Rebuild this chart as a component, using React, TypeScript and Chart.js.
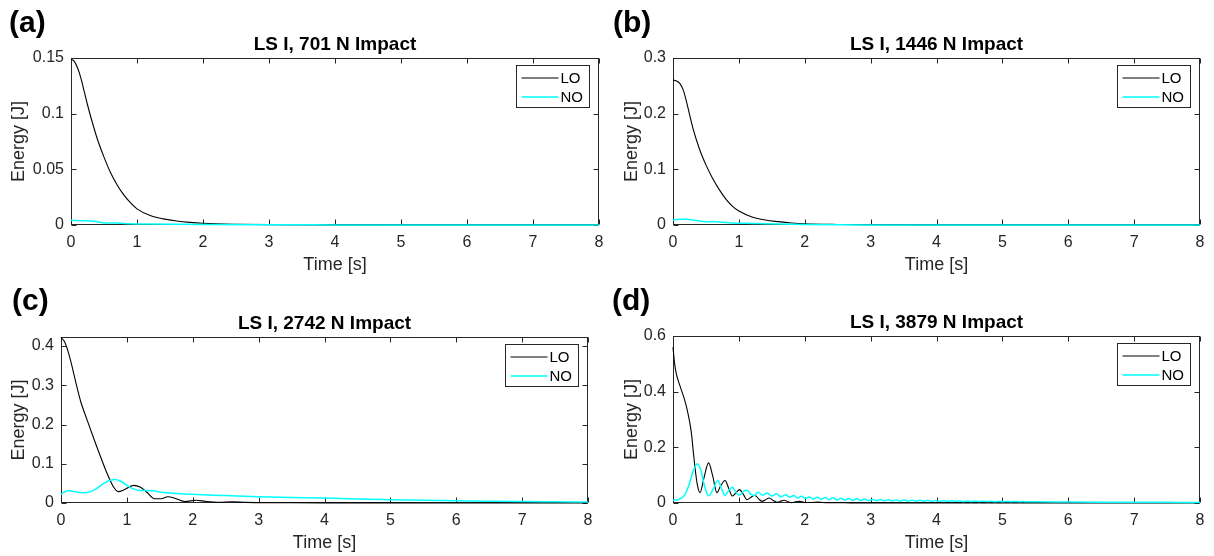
import React, { useEffect, useRef } from "react";
import { Chart, registerables } from "chart.js";

Chart.register(...registerables);

const FONT = "'Liberation Sans', Arial, Helvetica, sans-serif";
const AXIS_COLOR = "#262626";

// ---------- text ----------
const panelLabels = ["(a)", "(b)", "(c)", "(d)"];
const panelTitles = [
  "LS I, 701 N Impact",
  "LS I, 1446 N Impact",
  "LS I, 2742 N Impact",
  "LS I, 3879 N Impact",
];
const seriesNames = ["LO", "NO"];
const xAxisTitle = "Time [s]";
const yAxisTitle = "Energy [J]";

// ---------- ticks ----------
const timeTicks = [0, 1, 2, 3, 4, 5, 6, 7, 8];
const yTicksA = [0, 0.05, 0.1, 0.15];
const yTicksB = [0, 0.1, 0.2, 0.3];
const yTicksC = [0, 0.1, 0.2, 0.3, 0.4];
const yTicksD = [0, 0.2, 0.4, 0.6];
const yMaxA = 0.15;
const yMaxB = 0.3;
const yMaxC = 0.423;
const yMaxD = 0.6;

// ---------- panel (a) ----------
const tLoA = [0, 0.05, 0.1, 0.15, 0.2, 0.25, 0.3, 0.4, 0.5, 0.6, 0.7, 0.8, 0.9, 1.0, 1.2, 1.4, 1.6, 1.8, 2.0, 2.5, 3.0, 4, 5, 6, 7, 8];
const loA = [0.149, 0.147, 0.141, 0.132, 0.12, 0.108, 0.097, 0.077, 0.061, 0.047, 0.036, 0.027, 0.02, 0.0145, 0.0085, 0.0055, 0.0036, 0.0024, 0.0016, 0.0007, 0.0003, 0.0001, 0, 0, 0, 0];
const tNoA = [0, 0.2, 0.35, 0.5, 0.7, 0.9, 1.2, 1.6, 2, 3, 4, 5, 8];
const noA = [0.0042, 0.0038, 0.0033, 0.0019, 0.0017, 0.0012, 0.0009, 0.0006, 0.0004, 0.0002, 0.0001, 0, 0];

// ---------- panel (b) ----------
const tLoB = [0, 0.05, 0.1, 0.15, 0.2, 0.25, 0.3, 0.4, 0.5, 0.6, 0.7, 0.8, 0.9, 1.0, 1.2, 1.4, 1.6, 1.8, 2.0, 2.5, 3, 4, 5, 6, 7, 8];
const loB = [0.26, 0.259, 0.255, 0.244, 0.224, 0.199, 0.175, 0.137, 0.108, 0.084, 0.064, 0.047, 0.034, 0.025, 0.0145, 0.009, 0.006, 0.0037, 0.0022, 0.0009, 0.0004, 0.0001, 0, 0, 0, 0];
const tNoB = [0, 0.1, 0.2, 0.35, 0.5, 0.6, 0.75, 0.9, 1.1, 1.3, 1.6, 2, 2.5, 3, 4, 5, 8];
const noB = [0.009, 0.0105, 0.0102, 0.008, 0.0058, 0.0062, 0.005, 0.0037, 0.0032, 0.0026, 0.0017, 0.001, 0.0005, 0.0002, 0.0001, 0, 0];

// ---------- panel (c) ----------
const tLoC = [0, 0.05, 0.1, 0.15, 0.2, 0.25, 0.3, 0.4, 0.5, 0.6, 0.7, 0.8, 0.87, 0.95, 1.1, 1.2, 1.3, 1.42, 1.52, 1.62, 1.75, 1.88, 2.05, 2.2, 2.4, 2.6, 2.8, 3, 3.5, 4, 5, 6, 8];
const loC = [0.422, 0.412, 0.39, 0.36, 0.325, 0.29, 0.258, 0.21, 0.163, 0.118, 0.075, 0.04, 0.029, 0.033, 0.045, 0.041, 0.028, 0.011, 0.011, 0.016, 0.011, 0.004, 0.007, 0.004, 0.002, 0.003, 0.0015, 0.001, 0.0006, 0.0004, 0.0002, 0.0001, 0];
const tNoC = [0, 0.05, 0.12, 0.2, 0.33, 0.45, 0.55, 0.65, 0.75, 0.82, 0.9, 1.0, 1.1, 1.2, 1.3, 1.4, 1.55, 1.7, 2.0, 2.5, 3, 3.5, 4, 4.5, 5, 5.5, 6, 6.5, 7, 7.5, 8];
const noC = [0.022, 0.028, 0.031, 0.029, 0.026, 0.029, 0.038, 0.05, 0.058, 0.06, 0.056, 0.045, 0.036, 0.032, 0.032, 0.031, 0.027, 0.025, 0.022, 0.019, 0.016, 0.014, 0.0125, 0.01, 0.0085, 0.0072, 0.006, 0.0047, 0.0036, 0.003, 0.0025];

// ---------- panel (d) ----------
const tLoD = [0, 0.025, 0.05, 0.1, 0.15, 0.2, 0.25, 0.28, 0.31, 0.34, 0.37, 0.41, 0.47, 0.54, 0.6, 0.667, 0.72, 0.79, 0.85, 0.9, 0.95, 1.01, 1.07, 1.12, 1.18, 1.24, 1.3, 1.35, 1.4, 1.46, 1.52, 1.58, 1.63, 1.69, 1.75, 1.8, 1.86, 1.92, 2.0, 2.1, 2.2, 2.35, 2.5, 2.7, 3, 4, 5, 8];
const loD = [0.56, 0.5, 0.465, 0.425, 0.39, 0.35, 0.295, 0.25, 0.18, 0.115, 0.065, 0.037, 0.09, 0.144, 0.1, 0.037, 0.06, 0.081, 0.05, 0.025, 0.035, 0.048, 0.03, 0.012, 0.02, 0.028, 0.015, 0.006, 0.011, 0.018, 0.009, 0.0025, 0.006, 0.01, 0.004, 0.001, 0.004, 0.006, 0.002, 0.002, 0.003, 0.001, 0.0015, 0.0005, 0.0003, 0.0001, 0, 0];
const tNoD = [
  0, 0.1, 0.18, 0.25, 0.3, 0.37, 0.42, 0.48, 0.54, 0.6, 0.68, 0.74, 0.79, 0.85, 0.9, 0.96, 1.01, 1.07, 1.12, 1.18, 1.23, 1.29, 1.36, 1.43, 1.5, 1.57, 1.64,
  1.71, 1.77, 1.83, 1.89, 1.95, 2.01, 2.07, 2.13, 2.19, 2.25, 2.31, 2.37, 2.43, 2.49, 2.55, 2.61, 2.67, 2.73, 2.79, 2.85, 2.91, 2.97,
  3.03, 3.09, 3.15, 3.21, 3.27, 3.33, 3.39, 3.45, 3.51, 3.57, 3.63, 3.69, 3.75, 3.81, 3.87, 3.93, 3.99,
  4.05, 4.11, 4.17, 4.23, 4.29, 4.35, 4.41, 4.47, 4.53, 4.59, 4.65, 4.71, 4.77, 4.83, 4.89, 4.95,
  5.01, 5.07, 5.13, 5.19, 5.25, 5.31, 5.37, 5.5, 6, 6.5, 7, 7.5, 8,
];
const noD = [
  0.0095, 0.014, 0.03, 0.07, 0.11, 0.141, 0.12, 0.06, 0.026, 0.045, 0.081, 0.05, 0.027, 0.047, 0.057, 0.036, 0.028, 0.042, 0.046, 0.032, 0.026, 0.039, 0.028, 0.036, 0.025, 0.033, 0.022,
  0.03, 0.021, 0.027, 0.018, 0.024, 0.016, 0.022, 0.014, 0.021, 0.013, 0.02, 0.012, 0.019, 0.011, 0.0175, 0.0105, 0.016, 0.01, 0.015, 0.0093, 0.014, 0.0088,
  0.013, 0.0084, 0.0124, 0.008, 0.0118, 0.0077, 0.0112, 0.0074, 0.0106, 0.0071, 0.01, 0.0069, 0.0096, 0.0067, 0.0092, 0.0065, 0.0088,
  0.0063, 0.0084, 0.0061, 0.008, 0.0059, 0.0076, 0.0057, 0.0072, 0.0055, 0.0069, 0.0053, 0.0066, 0.0051, 0.0063, 0.0049, 0.006,
  0.0048, 0.0057, 0.0047, 0.0054, 0.0046, 0.0052, 0.0045, 0.0045, 0.0036, 0.003, 0.0026, 0.0023, 0.002,
];

// ---------- layout (page pixels) ----------
type Rect = { left: number; top: number; width: number; height: number };
type Plot = { left: number; top: number; right: number; bottom: number };
type PanelSpec = {
  label: string;
  title: string;
  tLo: number[];
  lo: number[];
  tNo: number[];
  no: number[];
  yMax: number;
  yTicks: number[];
  canvas: Rect;
  plot: Plot;
  labelPos: { left: number; top: number };
};

const PANELS: PanelSpec[] = [
  {
    label: panelLabels[0], title: panelTitles[0], tLo: tLoA, lo: loA, tNo: tNoA, no: noA, yMax: yMaxA, yTicks: yTicksA,
    canvas: { left: 0, top: 0, width: 613, height: 278 },
    plot: { left: 71, top: 58, right: 599, bottom: 225 },
    labelPos: { left: 9, top: 7 },
  },
  {
    label: panelLabels[1], title: panelTitles[1], tLo: tLoB, lo: loB, tNo: tNoB, no: noB, yMax: yMaxB, yTicks: yTicksB,
    canvas: { left: 613, top: 0, width: 601, height: 278 },
    plot: { left: 673, top: 58, right: 1200, bottom: 225 },
    labelPos: { left: 613, top: 7 },
  },
  {
    label: panelLabels[2], title: panelTitles[2], tLo: tLoC, lo: loC, tNo: tNoC, no: noC, yMax: yMaxC, yTicks: yTicksC,
    canvas: { left: 0, top: 278, width: 613, height: 278 },
    plot: { left: 61, top: 337, right: 588, bottom: 503 },
    labelPos: { left: 12, top: 285 },
  },
  {
    label: panelLabels[3], title: panelTitles[3], tLo: tLoD, lo: loD, tNo: tNoD, no: noD, yMax: yMaxD, yTicks: yTicksD,
    canvas: { left: 613, top: 278, width: 601, height: 278 },
    plot: { left: 673, top: 336, right: 1200, bottom: 503 },
    labelPos: { left: 612, top: 285 },
  },
];

function fmt(v: number): string {
  return String(+Number(v).toFixed(4));
}

function Panel({ spec }: { spec: PanelSpec }) {
  const ref = useRef<HTMLCanvasElement>(null);
  const c = spec.canvas;

  useEffect(() => {
    const p = spec.plot;
    const yAxisWidth = p.left - c.left;
    const xAxisHeight = c.top + c.height - p.bottom;
    const padTop = p.top - c.top;
    const padRight = c.left + c.width - p.right;

    const matlabPlugin = {
      id: "matlabAxes",
      beforeDatasetsDraw(chart: any) {
        const { ctx, chartArea, scales } = chart;
        const L = Math.round(chartArea.left) + 0.5;
        const R = Math.round(chartArea.right) - 0.5;
        const T = Math.round(chartArea.top) + 0.5;
        const B = Math.round(chartArea.bottom) - 0.5;
        ctx.save();
        ctx.strokeStyle = AXIS_COLOR;
        ctx.lineWidth = 1;
        ctx.strokeRect(L, T, R - L, B - T);
        const tl = 5;
        ctx.beginPath();
        for (const tk of scales.x.ticks) {
          const px = Math.round(scales.x.getPixelForValue(tk.value)) + 0.5;
          ctx.moveTo(px, B);
          ctx.lineTo(px, B - tl);
          ctx.moveTo(px, T);
          ctx.lineTo(px, T + tl);
        }
        for (const tk of scales.y.ticks) {
          const py = Math.round(scales.y.getPixelForValue(tk.value)) + 0.5;
          ctx.moveTo(L, py);
          ctx.lineTo(L + tl, py);
          ctx.moveTo(R, py);
          ctx.lineTo(R - tl, py);
        }
        ctx.stroke();
        ctx.restore();
      },
      afterDatasetsDraw(chart: any) {
        const { ctx, chartArea } = chart;
        // legend box (MATLAB style, inside top-right)
        const w = 73;
        const h = 42;
        const bx = Math.round(chartArea.right) - 10 - w + 0.5;
        const by = Math.round(chartArea.top) + 7 + 0.5;
        ctx.save();
        ctx.fillStyle = "#ffffff";
        ctx.fillRect(bx, by, w, h);
        ctx.strokeStyle = AXIS_COLOR;
        ctx.lineWidth = 1;
        ctx.strokeRect(bx, by, w, h);
        const rows = [12, 31];
        chart.data.datasets.forEach((ds: any, i: number) => {
          const y = Math.round(by + rows[i]);
          ctx.beginPath();
          ctx.strokeStyle = ds.borderColor;
          ctx.lineWidth = ds.borderWidth;
          ctx.moveTo(bx + 5, y);
          ctx.lineTo(bx + 42, y);
          ctx.stroke();
          ctx.fillStyle = "#000000";
          ctx.font = `15px ${FONT}`;
          ctx.textAlign = "left";
          ctx.textBaseline = "middle";
          ctx.fillText(ds.label, bx + 44, y + 0.5);
        });
        ctx.restore();
      },
      afterDraw(chart: any) {
        const { ctx, chartArea } = chart;
        ctx.save();
        ctx.fillStyle = "#000000";
        ctx.font = `bold 19px ${FONT}`;
        ctx.textAlign = "center";
        ctx.textBaseline = "middle";
        ctx.fillText(spec.title, (chartArea.left + chartArea.right) / 2, chartArea.top - 13);
        ctx.restore();
      },
    };

    const chart = new Chart(ref.current as HTMLCanvasElement, {
      type: "line",
      data: {
        datasets: [
          {
            label: seriesNames[0],
            data: spec.tLo.map((t, i) => ({ x: t, y: spec.lo[i] })),
            borderColor: "#000000",
            borderWidth: 1.1,
            pointRadius: 0,
            cubicInterpolationMode: "monotone",
            order: 1,
            clip: false,
          },
          {
            label: seriesNames[1],
            data: spec.tNo.map((t, i) => ({ x: t, y: spec.no[i] })),
            borderColor: "#00ffff",
            borderWidth: 1.5,
            pointRadius: 0,
            cubicInterpolationMode: "monotone",
            order: 0,
            clip: false,
          },
        ],
      } as any,
      options: {
        animation: false,
        responsive: false,
        devicePixelRatio: 1,
        layout: { padding: { top: padTop, right: padRight, left: 0, bottom: 0 } },
        plugins: {
          legend: { display: false },
          tooltip: { enabled: false },
          title: { display: false },
        },
        scales: {
          x: {
            type: "linear",
            min: 0,
            max: 8,
            afterBuildTicks: (s: any) => {
              s.ticks = timeTicks.map((v) => ({ value: v }));
            },
            afterFit: (s: any) => {
              s.height = xAxisHeight;
            },
            grid: { display: false, drawTicks: false },
            border: { display: false },
            ticks: {
              padding: 8,
              font: { size: 16, family: FONT },
              color: AXIS_COLOR,
              maxRotation: 0,
              autoSkip: false,
              callback: (v: any) => fmt(v),
            },
            title: {
              display: true,
              text: xAxisTitle,
              font: { size: 18, family: FONT },
              color: AXIS_COLOR,
              padding: { top: 0, bottom: 2 },
            },
          },
          y: {
            type: "linear",
            min: 0,
            max: spec.yMax,
            afterBuildTicks: (s: any) => {
              s.ticks = spec.yTicks.map((v) => ({ value: v }));
            },
            afterFit: (s: any) => {
              s.width = yAxisWidth;
            },
            grid: { display: false, drawTicks: false },
            border: { display: false },
            ticks: {
              padding: 7,
              font: { size: 16, family: FONT },
              color: AXIS_COLOR,
              autoSkip: false,
              callback: (v: any) => fmt(v),
            },
            title: {
              display: true,
              text: yAxisTitle,
              font: { size: 18, family: FONT },
              color: AXIS_COLOR,
              padding: { top: 8, bottom: 0 },
            },
          },
        },
      } as any,
      plugins: [matlabPlugin],
    });
    return () => chart.destroy();
  }, []);

  return (
    <>
      <canvas
        ref={ref}
        width={c.width}
        height={c.height}
        style={{ position: "absolute", left: c.left, top: c.top }}
      />
      <div
        style={{
          position: "absolute",
          left: spec.labelPos.left,
          top: spec.labelPos.top,
          font: `bold 30px ${FONT}`,
          lineHeight: "30px",
          color: "#000000",
          whiteSpace: "nowrap",
        }}
      >
        {spec.label}
      </div>
    </>
  );
}

export default function App() {
  return (
    <div
      style={{
        position: "absolute",
        left: 0,
        top: 0,
        width: 1214,
        height: 556,
        background: "#ffffff",
        overflow: "hidden",
      }}
    >
      {PANELS.map((p) => (
        <Panel key={p.label} spec={p} />
      ))}
    </div>
  );
}
